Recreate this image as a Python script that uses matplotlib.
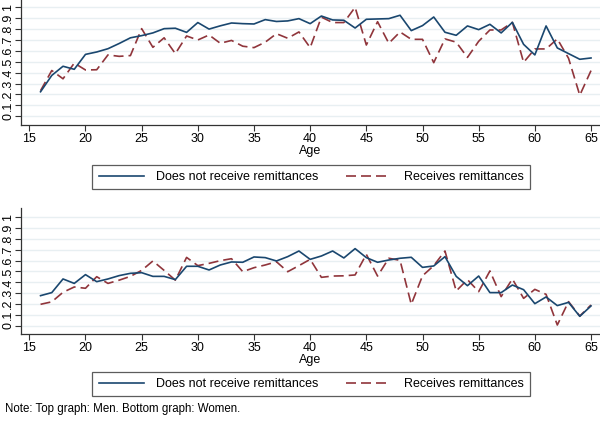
import matplotlib
matplotlib.use("Agg")
import matplotlib.pyplot as plt
import numpy as np

plt.rcParams['font.family'] = ['Liberation Sans', 'DejaVu Sans']

ages = list(range(16, 66))

men_no = [0.225, 0.375, 0.459, 0.431, 0.568, 0.59, 0.62, 0.668, 0.72, 0.74,
          0.765, 0.804, 0.808, 0.77, 0.86, 0.80, 0.83, 0.856, 0.85, 0.847,
          0.887, 0.87, 0.875, 0.896, 0.85, 0.92, 0.884, 0.881, 0.81, 0.89,
          0.893, 0.896, 0.927, 0.786, 0.832, 0.911, 0.771, 0.743, 0.829, 0.795,
          0.844, 0.765, 0.862, 0.66, 0.563, 0.829, 0.627, 0.575, 0.523, 0.535]
men_yes = [0.235, 0.42, 0.344, 0.488, 0.425, 0.427, 0.563, 0.55, 0.557, 0.804,
           0.633, 0.72, 0.575, 0.737, 0.70, 0.746, 0.67, 0.696, 0.643, 0.63,
           0.68, 0.758, 0.716, 0.774, 0.63, 0.91, 0.86, 0.86, 1.0, 0.654,
           0.868, 0.67, 0.774, 0.706, 0.706, 0.492, 0.71, 0.68, 0.54, 0.688,
           0.792, 0.792, 0.862, 0.495, 0.618, 0.618, 0.71, 0.532, 0.193, 0.419]
women_no = [0.277, 0.305, 0.431, 0.39, 0.471, 0.406, 0.431, 0.462, 0.483, 0.489,
            0.455, 0.455, 0.425, 0.548, 0.548, 0.514, 0.56, 0.588, 0.585, 0.634,
            0.628, 0.597, 0.637, 0.689, 0.612, 0.643, 0.689, 0.625, 0.711, 0.628,
            0.585, 0.606, 0.622, 0.631, 0.538, 0.551, 0.637, 0.455, 0.369, 0.458,
            0.305, 0.305, 0.375, 0.332, 0.203, 0.265, 0.185, 0.215, 0.086, 0.182]
women_yes = [0.197, 0.22, 0.308, 0.357, 0.345, 0.452, 0.39, 0.42, 0.455, 0.51,
             0.597, 0.51, 0.42, 0.63, 0.554, 0.575, 0.6, 0.618, 0.498, 0.535,
             0.56, 0.59, 0.498, 0.554, 0.612, 0.446, 0.458, 0.46, 0.468, 0.658,
             0.458, 0.622, 0.603, 0.197, 0.46, 0.554, 0.689, 0.32, 0.425, 0.314,
             0.505, 0.268, 0.431, 0.252, 0.335, 0.289, 0.006, 0.222, 0.089, 0.191]

xticks = [15, 20, 25, 30, 35, 40, 45, 50, 55, 60, 65]
yticks = [0, 0.1, 0.2, 0.3, 0.4, 0.5, 0.6, 0.7, 0.8, 0.9, 1.0]
ytick_labels = ["0", ".1", ".2", ".3", ".4", ".5", ".6", ".7", ".8", ".9", "1"]
labels = ["Does not receive remittances", "Receives remittances"]
note = "Note: Top graph: Men. Bottom graph: Women."

BLUE = "#1a476f"
RED = "#90353b"
W, H = 600, 423
fig = plt.figure(figsize=(6.0, 4.23), dpi=100)
fig.patch.set_facecolor("white")

def make_panel(top_px, bot_px, ylim, s_no, s_yes, leg_y):
    ax = fig.add_axes([21 / W, 1 - bot_px / H, 1 - 21 / W, (bot_px - top_px) / H])
    ax.set_xlim(14.26, 65.8)
    ax.set_ylim(*ylim)
    for y in yticks:
        ax.axhline(y, color="#e8eff2", lw=1.0, zorder=0)
    l1, = ax.plot(ages, s_no, color=BLUE, lw=1.2, zorder=3)
    l2, = ax.plot(ages, s_yes, color=RED, lw=1.2, dashes=(6, 3), zorder=2)
    for sp in ["top", "right"]:
        ax.spines[sp].set_visible(False)
    for sp in ["left", "bottom"]:
        ax.spines[sp].set_color("#333333")
        ax.spines[sp].set_linewidth(0.9)
    ax.set_xticks(xticks)
    ax.set_xticklabels([str(t) for t in xticks], fontsize=9)
    ax.set_yticks(yticks)
    ax.set_yticklabels(ytick_labels, fontsize=9, rotation=90, va="center")
    ax.tick_params(axis="both", direction="out", length=4, width=0.8, color="#333333", pad=2)
    ax.tick_params(axis="y", pad=1)
    ax.set_xlabel("Age", fontsize=9, labelpad=0)
    leg = ax.legend([l1, l2], labels, ncol=2, loc="center",
                    bbox_to_anchor=(311 / W, 1 - leg_y / H), bbox_transform=fig.transFigure,
                    fontsize=9, frameon=True, fancybox=False, handlelength=3.6,
                    columnspacing=2.2, borderpad=0.5, handletextpad=1.0, borderaxespad=0)
    leg.get_frame().set_edgecolor("#333333")
    leg.get_frame().set_linewidth(0.9)
    ax.set_facecolor("white")
    return ax

make_panel(0, 125, (-0.08, 1.067), men_no, men_yes, 177)
make_panel(208, 334, (-0.077, 1.086), women_no, women_yes, 384)

fig.text(5 / W, 1 - 409 / H, note, fontsize=8.3, va="center", ha="left")

fig.savefig("out.png", dpi=100, facecolor="white")
